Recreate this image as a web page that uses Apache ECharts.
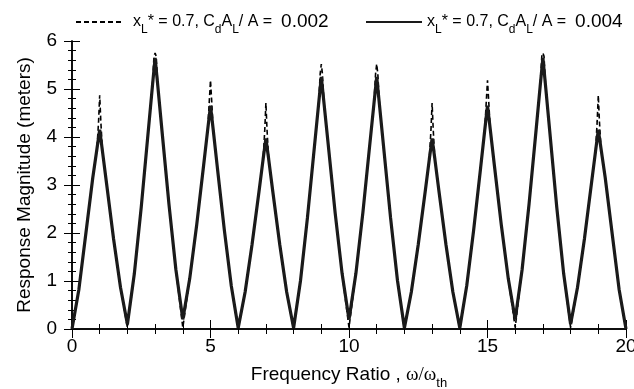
<!DOCTYPE html>
<html>
<head>
<meta charset="utf-8">
<script src="https://cdn.jsdelivr.net/npm/echarts@6/dist/echarts.min.js"></script>
<style>
html,body{margin:0;padding:0;background:#fff;}
#chart{width:634px;height:389px;}
</style>
</head>
<body>
<div id="chart"></div>
<script>
// 频率比 (实线, Cd*AL/A = 0.004)
var freq = [
	0,0.25,0.5,0.75,0.9,1,1.1,1.25,1.5,1.75,
	2,2.25,2.5,2.75,2.9,3,3.1,3.25,3.5,3.75,
	4,4.25,4.5,4.75,4.9,5,5.1,5.25,5.5,5.75,
	6,6.25,6.5,6.75,6.9,7,7.1,7.25,7.5,7.75,
	8,8.25,8.5,8.75,8.9,9,9.1,9.25,9.5,9.75,
	10,10.25,10.5,10.75,10.9,11,11.1,11.25,11.5,11.75,
	12,12.25,12.5,12.75,12.9,13,13.1,13.25,13.5,13.75,
	14,14.25,14.5,14.75,14.9,15,15.1,15.25,15.5,15.75,
	16,16.25,16.5,16.75,16.9,17,17.1,17.25,17.5,17.75,
	18,18.25,18.5,18.75,18.9,19,19.1,19.25,19.5,19.75,
	20
];
var resp004 = [
	0,0.83,1.99,3.15,3.75,4.15,3.70,3.02,1.88,0.87,
	0.1,1.15,2.54,4.10,5.04,5.65,5.05,4.12,2.60,1.24,
	0.2,1.05,2.16,3.40,4.16,4.65,4.14,3.35,2.06,0.90,
	0.02,0.77,1.76,2.86,3.54,3.97,3.54,2.86,1.76,0.77,
	0.02,1.01,2.32,3.79,4.67,5.25,4.69,3.84,2.42,1.16,
	0.2,1.16,2.42,3.84,4.69,5.25,4.67,3.79,2.32,1.01,
	0.02,0.77,1.76,2.86,3.54,3.97,3.54,2.86,1.76,0.77,
	0.02,0.90,2.06,3.35,4.14,4.65,4.16,3.40,2.16,1.05,
	0.2,1.24,2.60,4.12,5.05,5.65,5.04,4.10,2.54,1.15,
	0.1,0.87,1.88,3.02,3.70,4.15,3.75,3.15,1.99,0.83,
	0
];
// 频率比 (虚线, Cd*AL/A = 0.002), 峰值附近多取点
var freqDash = [
	0,0.25,0.5,0.75,0.9,0.96,1,1.04,1.1,1.25,1.5,1.75,
	2,2.25,2.5,2.75,2.9,2.96,3,3.04,3.1,3.25,3.5,3.75,
	4,4.25,4.5,4.75,4.9,4.96,5,5.04,5.1,5.25,5.5,5.75,
	6,6.25,6.5,6.75,6.9,6.96,7,7.04,7.1,7.25,7.5,7.75,
	8,8.25,8.5,8.75,8.9,8.96,9,9.04,9.1,9.25,9.5,9.75,
	10,10.25,10.5,10.75,10.9,10.96,11,11.04,11.1,11.25,11.5,11.75,
	12,12.25,12.5,12.75,12.9,12.96,13,13.04,13.1,13.25,13.5,13.75,
	14,14.25,14.5,14.75,14.9,14.96,15,15.04,15.1,15.25,15.5,15.75,
	16,16.25,16.5,16.75,16.9,16.96,17,17.04,17.1,17.25,17.5,17.75,
	18,18.25,18.5,18.75,18.9,18.96,19,19.04,19.1,19.25,19.5,19.75,
	20
];
var resp002 = [
	0,0.83,1.99,3.15,3.75,4.33,4.87,4.33,3.70,3.02,1.88,0.87,
	0.03,1.15,2.54,4.10,5.04,5.68,5.75,5.68,5.05,4.12,2.60,1.24,
	0.03,1.05,2.16,3.40,4.16,4.78,5.18,4.78,4.14,3.35,2.06,0.90,
	0,0.77,1.76,2.86,3.54,4.16,4.71,4.16,3.54,2.86,1.76,0.77,
	0,1.01,2.32,3.79,4.67,5.32,5.52,5.32,4.69,3.84,2.42,1.16,
	0.03,1.16,2.42,3.84,4.69,5.32,5.52,5.32,4.67,3.79,2.32,1.01,
	0,0.77,1.76,2.86,3.54,4.16,4.71,4.16,3.54,2.86,1.76,0.77,
	0,0.90,2.06,3.35,4.14,4.78,5.18,4.78,4.16,3.40,2.16,1.05,
	0.03,1.24,2.60,4.12,5.05,5.68,5.75,5.68,5.04,4.10,2.54,1.15,
	0.03,0.87,1.88,3.02,3.70,4.33,4.87,4.33,3.75,3.15,1.99,0.83,
	0
];
var xTicks = [0, 5, 10, 15, 20];
var yTicks = [0, 1, 2, 3, 4, 5, 6];
var labelDash = '0.002';
var labelSolid = '0.004';

function pairs(xs, ys){
	var out = [];
	for (var i = 0; i < xs.length; i++) { out.push([xs[i], ys[i]]); }
	return out;
}

var font = '"Liberation Sans", Arial, sans-serif';
var rich = {
	g: {width: 6, lineHeight: 26},
	n: {fontFamily: font, fontSize: 16, color: '#000', lineHeight: 26, verticalAlign: 'middle'},
	v: {fontFamily: font, fontSize: 19, color: '#000', lineHeight: 26, verticalAlign: 'middle'},
	s: {fontFamily: font, fontSize: 12, color: '#000', lineHeight: 12, verticalAlign: 'top', padding: [15, 0, 0, 0]}
};
function legendText(v, gap){
	return (gap ? '{g| }' : '') + '{n|x}{s|L}{n|* = 0.7, C}{s|d}{n|A}{s|L}{n|/ A =  }{v|' + v + '}';
}

var chart = echarts.init(document.getElementById('chart'));
var axisLine = {show: true, lineStyle: {color: '#000', width: 1.5}};
var option = {
	animation: false,
	backgroundColor: '#fff',
	legend: [
		{
			data: ['dash'], left: 70, top: 4, itemWidth: 46, itemHeight: 14,
			itemStyle: {opacity: 0},
			formatter: function(){ return legendText(labelDash, true); },
			textStyle: {rich: rich}
		},
		{
			data: ['solid'], left: 360, top: 4, itemWidth: 56, itemHeight: 14,
			itemStyle: {opacity: 0},
			formatter: function(){ return legendText(labelSolid, false); },
			textStyle: {rich: rich}
		}
	],
	grid: {left: 72, right: 8, top: 41, bottom: 60, outerBoundsMode: 'none'},
	xAxis: [
		{
			type: 'value', min: 0, max: 20, interval: 5,
			name: '{a|Frequency Ratio , }{w|ω/ω}{s|th}',
			nameLocation: 'middle', nameGap: 31,
			nameTextStyle: {
				rich: {
					a: {fontFamily: font, fontSize: 19, color: '#000', lineHeight: 28, verticalAlign: 'middle'},
					w: {fontFamily: '"Liberation Serif", serif', fontSize: 19, color: '#000', lineHeight: 28, verticalAlign: 'middle'},
					s: {fontFamily: font, fontSize: 13, color: '#000', lineHeight: 13, verticalAlign: 'top', padding: [16, 0, 0, 0]}
				}
			},
			axisLine: axisLine,
			axisTick: {inside: true, length: 9, lineStyle: {color: '#000', width: 1}},
			minorTick: {show: true, splitNumber: 5, length: 5, lineStyle: {color: '#000', width: 1}},
			axisLabel: {
				fontFamily: font, fontSize: 19, color: '#000', margin: 8,
				formatter: function(v){ return xTicks.indexOf(v) >= 0 ? String(v) : ''; }
			},
			splitLine: {show: false}
		},
		{
			type: 'value', position: 'top', min: 0, max: 20, interval: 5,
			axisLine: axisLine,
			axisTick: {inside: true, length: 9, lineStyle: {color: '#000', width: 1}},
			minorTick: {show: true, splitNumber: 5, length: 5, lineStyle: {color: '#000', width: 1}},
			axisLabel: {show: false},
			splitLine: {show: false}
		}
	],
	yAxis: [
		{
			type: 'value', min: 0, max: 6, interval: 1,
			name: 'Response Magnitude (meters)',
			nameLocation: 'middle', nameGap: 38,
			nameTextStyle: {fontFamily: font, fontSize: 19, color: '#000'},
			axisLine: axisLine,
			axisTick: {inside: true, length: 8, lineStyle: {color: '#000', width: 1}},
			minorTick: {show: true, splitNumber: 5, length: 4, lineStyle: {color: '#000', width: 1}},
			axisLabel: {
				fontFamily: font, fontSize: 19, color: '#000', margin: 15,
				formatter: function(v){ return yTicks.indexOf(v) >= 0 ? String(v) : ''; }
			},
			splitLine: {show: false}
		},
		{
			type: 'value', position: 'right', min: 0, max: 6, interval: 1,
			axisLine: axisLine,
			axisTick: {inside: true, length: 8, lineStyle: {color: '#000', width: 1}},
			minorTick: {show: true, splitNumber: 5, length: 4, lineStyle: {color: '#000', width: 1}},
			axisLabel: {show: false},
			splitLine: {show: false}
		}
	],
	series: [
		{
			name: 'dash', type: 'line', symbol: 'none', z: 2,
			data: pairs(freqDash, resp002),
			lineStyle: {color: '#000', width: 1.6, type: [5, 3]},
			itemStyle: {color: '#000'}
		},
		{
			name: 'solid', type: 'line', symbol: 'none', z: 3,
			data: pairs(freq, resp004),
			lineStyle: {color: '#1a1a1a', width: 3.2},
			itemStyle: {color: '#1a1a1a'}
		}
	]
};
chart.setOption(option);
</script>
</body>
</html>
